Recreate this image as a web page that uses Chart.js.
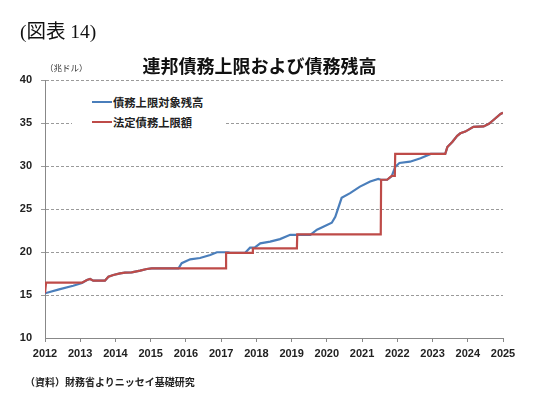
<!DOCTYPE html>
<html lang="ja">
<head>
<meta charset="utf-8">
<script src="https://cdn.jsdelivr.net/npm/chart.js@4.4.1/dist/chart.umd.min.js"></script>
<style>
  html, body { margin: 0; padding: 0; background: #fff; }
  #wrap { position: relative; width: 540px; height: 415px; overflow: hidden; }
  #c { position: absolute; left: 0; top: 0; }
  .txt { position: absolute; white-space: nowrap; color: #111; }
  #fig { left: 20px; top: 20px; font: 19.5px/24px "Liberation Serif", "Noto Sans CJK JP", serif; }
  #title { left: 0; width: 519px; top: 53px; text-align: center; font: bold 18px/24px "Noto Sans CJK JP", sans-serif; }
  #unit { left: 45px; top: 61px; font: 8.5px/12px "Noto Sans CJK JP", sans-serif; color: #333; }
  #legend { position: absolute; left: 72px; top: 92px; width: 153px; height: 40px; background: #fff; }
  .item { position: absolute; left: 20px; height: 14px; font: bold 11.3px/14px "Noto Sans CJK JP", sans-serif; color: #222; }
  .item i { position: absolute; left: 0; top: 6px; width: 20px; height: 2px; }
  .item span { position: absolute; left: 21px; top: 0; white-space: nowrap; }
  #source { left: 25px; top: 374px; font: bold 10px/16px "Noto Sans CJK JP", sans-serif; color: #222; }
</style>
</head>
<body>
<div id="wrap">
  <canvas id="c" width="540" height="415"></canvas>
  <div class="txt" id="fig">(図表 14)</div>
  <div class="txt" id="title">連邦債務上限および債務残高</div>
  <div class="txt" id="unit">（兆ドル）</div>
  <div id="legend"></div>
  <div class="txt" id="source">（資料）財務省よりニッセイ基礎研究</div>
</div>
<script>
// 系列名
var seriesNames = ['債務上限対象残高', '法定債務上限額'];
var seriesColors = ['#4a7ebb', '#be4b48'];

// 債務上限対象残高（兆ドル）
var debtYears = [2012.00, 2012.40, 2012.80, 2013.05, 2013.19, 2013.28, 2013.37, 2013.70, 2013.80, 2013.94,
  2014.13, 2014.27, 2014.46, 2014.70, 2014.89, 2015.03, 2015.79, 2015.88, 2016.12, 2016.40,
  2016.69, 2016.88, 2017.20, 2017.25, 2017.68, 2017.75, 2017.82, 2017.95, 2018.11, 2018.39,
  2018.67, 2018.96, 2019.53, 2019.72, 2019.90, 2020.14, 2020.24, 2020.42, 2020.66, 2020.94,
  2021.23, 2021.46, 2021.53, 2021.71, 2021.84, 2021.94, 2022.06, 2022.36, 2022.66, 2022.95,
  2023.36, 2023.42, 2023.56, 2023.70, 2023.79, 2023.93, 2024.16, 2024.45, 2024.60, 2024.73,
  2024.93, 2025.00];
var debtValues = [15.20, 15.66, 16.08, 16.40, 16.74, 16.86, 16.66, 16.66, 17.13, 17.33,
  17.52, 17.60, 17.64, 17.83, 18.02, 18.10, 18.10, 18.70, 19.15, 19.30,
  19.65, 19.97, 19.97, 19.90, 19.90, 20.20, 20.50, 20.50, 21.00, 21.20,
  21.50, 22.00, 22.00, 22.60, 22.94, 23.40, 24.10, 26.30, 26.85, 27.60,
  28.20, 28.50, 28.40, 28.40, 28.80, 29.90, 30.35, 30.50, 30.90, 31.40,
  31.40, 32.20, 32.80, 33.50, 33.80, 34.00, 34.55, 34.60, 34.90, 35.35,
  36.05, 36.20];

// 法定債務上限額（兆ドル）
var limitYears = [2012.00, 2012.03, 2013.05, 2013.19, 2013.28, 2013.37, 2013.70, 2013.80, 2013.94, 2014.13,
  2014.27, 2014.46, 2014.70, 2014.89, 2015.03, 2017.14, 2017.14, 2017.89, 2017.90, 2019.15,
  2019.16, 2021.53, 2021.54, 2021.71, 2021.84, 2021.93, 2021.94, 2023.36, 2023.42, 2023.56,
  2023.70, 2023.79, 2023.93, 2024.16, 2024.45, 2024.60, 2024.73, 2024.93, 2025.00];
var limitValues = [15.20, 16.43, 16.43, 16.74, 16.86, 16.66, 16.66, 17.13, 17.33, 17.52,
  17.60, 17.64, 17.83, 18.02, 18.10, 18.10, 19.90, 19.90, 20.43, 20.43,
  22.05, 22.05, 28.40, 28.40, 28.85, 28.85, 31.40, 31.40, 32.20, 32.80,
  33.50, 33.80, 34.00, 34.55, 34.60, 34.90, 35.35, 36.05, 36.20];

// 軸
var yearMin = 2012, yearMax = 2025;
var valueMin = 10, valueMax = 40, valueStep = 5;

function toPoints(xs, ys) {
  var pts = [];
  for (var i = 0; i < xs.length; i++) {
    pts.push({ x: xs[i], y: ys[i] });
  }
  return pts;
}

function buildLegend(el) {
  var html = '';
  for (var i = 0; i < seriesNames.length; i++) {
    html += '<div class="item" style="top:' + (3 + i * 20) + 'px">' +
      '<i style="background:' + seriesColors[i] + '"></i><span>' + seriesNames[i] + '</span></div>';
  }
  el.innerHTML = html;
}

var tickFont = { family: '"Liberation Sans", Arial, sans-serif', size: 11, weight: 'bold' };

var chart = new Chart(document.getElementById('c').getContext('2d'), {
  type: 'line',
  data: {
    datasets: [
      { label: seriesNames[0], data: toPoints(debtYears, debtValues), borderColor: seriesColors[0],
        borderWidth: 2.2, pointRadius: 0, fill: false, tension: 0, order: 2 },
      { label: seriesNames[1], data: toPoints(limitYears, limitValues), borderColor: seriesColors[1],
        borderWidth: 2.2, pointRadius: 0, fill: false, tension: 0, order: 1 }
    ]
  },
  options: {
    responsive: false,
    animation: false,
    events: [],
    layout: { padding: { left: 0, right: 37, top: 80, bottom: 57 } },
    plugins: { legend: { display: false }, title: { display: false }, tooltip: { enabled: false } },
    scales: {
      x: {
        type: 'linear', min: yearMin, max: yearMax,
        afterFit: function (s) { s.height = 20; },
        grid: { drawOnChartArea: false, drawTicks: true, tickLength: 4, color: '#888' },
        border: { color: '#888', width: 1 },
        ticks: { stepSize: 1, autoSkip: false, maxRotation: 0, padding: 5, color: '#222', font: tickFont,
          callback: function (v) { return String(v); } }
      },
      y: {
        min: valueMin, max: valueMax,
        afterFit: function (s) { s.width = 45; },
        grid: { color: function (ctx) { return ctx.tick && ctx.tick.value === valueMin ? 'rgba(0,0,0,0)' : '#9a9a9a'; },
          tickLength: 4, lineWidth: 1 },
        border: { color: '#888', width: 1, dash: [3, 2] },
        ticks: { stepSize: valueStep, padding: 9, color: '#222', font: tickFont }
      }
    }
  }
});

buildLegend(document.getElementById('legend'));
</script>
</body>
</html>
